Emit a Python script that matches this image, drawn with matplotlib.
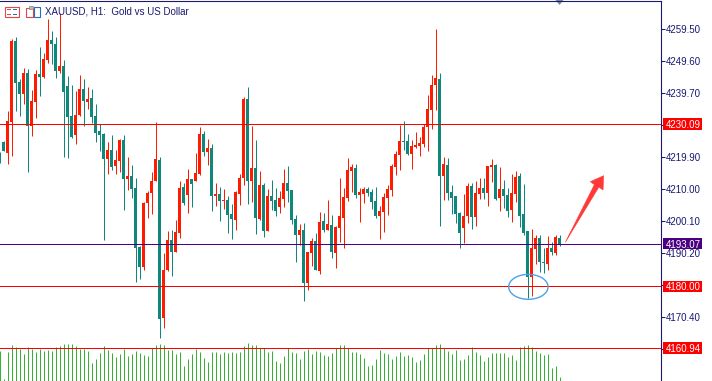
"""MT5-style XAUUSD H1 candles with tick volumes, marked levels and notes."""
import matplotlib

matplotlib.use("Agg")
import matplotlib.pyplot as plt
import matplotlib.transforms as mtransforms
import numpy as np
from matplotlib.patches import Ellipse, Polygon, Rectangle

plt.rcParams["font.family"] = ["Liberation Sans", "DejaVu Sans"]

# ---- data (one entry per H1 bar, oldest first) ----
opens = [
    4220.5, 4224.5, 4221.2, 4230.8, 4255.7, 4243.0, 4239.3, 4245.8, 4229.6, 4237.0,
    4245.5, 4244.7, 4249.9, 4256.0, 4254.8, 4246.5, 4248.0, 4241.8, 4232.5, 4226.6,
    4232.9, 4240.9, 4237.0, 4238.1, 4232.5, 4227.9, 4227.0, 4219.4, 4222.1, 4217.2,
    4218.7, 4225.1, 4213.2, 4213.9, 4210.3, 4192.1, 4186.0, 4205.6, 4208.7, 4212.4,
    4219.0, 4170.3, 4185.0, 4194.2, 4190.7, 4196.5, 4210.6, 4208.3, 4213.1, 4212.6,
    4214.6, 4227.0, 4221.5, 4222.7, 4207.9, 4208.5, 4206.4, 4206.6, 4202.3, 4200.5,
    4208.6, 4213.5, 4237.8, 4212.6, 4216.5, 4200.8, 4211.2, 4197.1, 4207.9, 4206.6,
    4204.5, 4207.0, 4211.9, 4209.7, 4200.7, 4195.9, 4197.4, 4181.1, 4190.3, 4194.0,
    4184.8, 4200.1, 4197.4, 4198.9, 4190.3, 4198.1, 4201.2, 4207.3, 4215.7, 4216.5,
    4208.3, 4208.6, 4210.0, 4209.1, 4206.3, 4201.8, 4203.0, 4207.3, 4209.8, 4216.9,
    4220.6, 4224.8, 4224.8, 4220.9, 4223.1, 4223.4, 4224.0, 4229.0, 4234.5, 4242.1,
    4244.0, 4214.1, 4217.4, 4209.1, 4207.9, 4202.6, 4198.1, 4201.8, 4210.9, 4201.5,
    4208.6, 4210.3, 4208.9, 4216.9, 4217.4, 4207.3, 4210.0, 4208.2, 4203.6, 4208.6,
    4214.0, 4202.3, 4197.0, 4182.9, 4191.6, 4195.0, 4187.6, 4187.0, 4191.9, 4190.3,
    4195.0,
]
highs = [
    4221.4, 4224.8, 4234.0, 4256.3, 4256.9, 4244.0, 4247.4, 4247.1, 4240.6, 4246.8,
    4253.9, 4252.0, 4262.5, 4258.8, 4256.9, 4264.3, 4249.8, 4244.9, 4242.1, 4240.3,
    4245.2, 4244.0, 4241.5, 4240.9, 4236.3, 4230.2, 4227.4, 4224.5, 4226.7, 4222.1,
    4225.5, 4226.7, 4219.9, 4217.4, 4213.4, 4192.5, 4206.0, 4209.5, 4215.3, 4230.7,
    4219.9, 4190.4, 4197.0, 4197.4, 4200.4, 4212.5, 4212.0, 4216.2, 4213.1, 4221.1,
    4229.2, 4227.9, 4225.5, 4223.9, 4211.9, 4210.6, 4210.1, 4207.9, 4205.4, 4209.4,
    4214.6, 4238.4, 4241.5, 4229.5, 4225.1, 4215.6, 4211.9, 4210.0, 4212.8, 4210.3,
    4209.4, 4216.2, 4217.1, 4209.7, 4202.0, 4199.2, 4199.5, 4190.6, 4194.9, 4196.4,
    4202.9, 4202.6, 4206.6, 4202.0, 4198.6, 4213.4, 4210.3, 4219.6, 4217.7, 4217.7,
    4210.3, 4210.6, 4210.6, 4210.0, 4210.6, 4204.8, 4208.8, 4211.2, 4217.7, 4221.7,
    4229.8, 4231.0, 4227.0, 4225.1, 4227.6, 4226.1, 4230.1, 4239.0, 4245.2, 4259.4,
    4245.8, 4219.9, 4219.6, 4211.2, 4207.9, 4203.0, 4208.5, 4211.9, 4211.9, 4212.5,
    4213.4, 4213.4, 4217.1, 4219.3, 4217.7, 4216.8, 4212.8, 4210.3, 4214.6, 4215.6,
    4215.0, 4211.6, 4197.0, 4197.8, 4195.9, 4195.9, 4191.9, 4195.6, 4193.7, 4195.9,
    4195.9,
]
lows = [
    4218.0, 4221.7, 4217.8, 4220.3, 4234.2, 4232.6, 4236.3, 4215.4, 4226.5, 4232.0,
    4238.8, 4244.2, 4249.0, 4248.7, 4244.4, 4245.9, 4220.0, 4219.7, 4225.7, 4224.0,
    4232.5, 4229.6, 4234.8, 4230.3, 4224.6, 4221.8, 4194.4, 4214.7, 4215.8, 4214.7,
    4215.4, 4203.5, 4209.8, 4207.3, 4181.4, 4182.2, 4185.0, 4201.2, 4202.4, 4212.4,
    4164.1, 4167.2, 4184.8, 4183.2, 4190.7, 4195.0, 4205.1, 4202.6, 4204.5, 4212.6,
    4214.3, 4220.3, 4217.4, 4203.3, 4204.9, 4200.2, 4203.9, 4196.5, 4194.7, 4197.4,
    4205.2, 4211.3, 4205.5, 4206.1, 4196.2, 4200.5, 4195.3, 4197.1, 4203.6, 4201.8,
    4202.7, 4204.5, 4206.1, 4199.3, 4187.6, 4192.8, 4175.5, 4178.9, 4186.3, 4185.1,
    4183.9, 4196.7, 4197.4, 4188.8, 4185.7, 4193.7, 4191.9, 4206.4, 4209.2, 4207.3,
    4199.9, 4205.8, 4207.9, 4203.9, 4201.2, 4194.7, 4196.8, 4202.1, 4207.9, 4214.4,
    4216.0, 4222.1, 4220.6, 4216.3, 4222.8, 4220.3, 4223.1, 4221.8, 4228.6, 4234.5,
    4198.7, 4206.7, 4206.7, 4202.4, 4199.6, 4191.9, 4193.4, 4199.6, 4197.7, 4198.7,
    4207.0, 4207.0, 4204.9, 4212.3, 4206.7, 4203.3, 4204.2, 4201.5, 4199.9, 4206.1,
    4198.4, 4195.9, 4176.5, 4177.1, 4186.9, 4184.5, 4184.2, 4185.1, 4189.7, 4189.7,
    4192.5,
]
closes = [
    4219.0, 4221.8, 4231.0, 4255.7, 4242.8, 4239.3, 4245.8, 4229.6, 4237.2, 4245.5,
    4244.7, 4250.1, 4256.0, 4254.9, 4246.5, 4248.0, 4240.0, 4232.3, 4226.2, 4232.9,
    4240.9, 4237.3, 4237.8, 4232.3, 4227.4, 4226.8, 4219.4, 4222.1, 4216.9, 4219.0,
    4225.1, 4213.2, 4213.9, 4210.1, 4191.9, 4186.0, 4205.7, 4208.8, 4212.5, 4219.3,
    4169.8, 4185.0, 4194.2, 4190.7, 4196.7, 4210.3, 4205.8, 4213.1, 4211.6, 4214.9,
    4227.0, 4221.5, 4222.7, 4207.9, 4208.5, 4206.4, 4206.6, 4202.1, 4200.8, 4209.1,
    4213.4, 4237.8, 4212.6, 4216.5, 4201.2, 4211.2, 4197.1, 4207.9, 4206.4, 4203.3,
    4207.2, 4211.9, 4209.5, 4200.5, 4195.9, 4197.4, 4181.1, 4190.6, 4194.0, 4185.1,
    4199.8, 4197.4, 4199.2, 4190.6, 4198.3, 4201.7, 4207.5, 4215.9, 4216.8, 4208.3,
    4209.1, 4210.0, 4208.9, 4206.1, 4201.8, 4203.2, 4207.5, 4210.0, 4217.1, 4220.8,
    4224.8, 4224.6, 4220.9, 4223.3, 4223.6, 4224.2, 4229.2, 4234.7, 4242.1, 4244.3,
    4214.1, 4217.7, 4208.9, 4207.3, 4202.4, 4196.5, 4201.7, 4210.9, 4201.5, 4208.8,
    4210.3, 4208.9, 4217.1, 4217.4, 4207.0, 4210.0, 4207.9, 4203.3, 4208.8, 4213.7,
    4201.8, 4196.5, 4182.9, 4191.9, 4195.0, 4187.6, 4187.2, 4191.9, 4190.7, 4195.3,
    4193.07,
]
# tick volumes, relative units as drawn
volumes = [
    30, 2, 29, 36, 34, 32, 27, 34, 32, 29, 32, 30, 31, 30, 34, 35, 37, 37, 37, 35,
    32, 32, 30, 18, 22, 28, 35, 31, 28, 24, 27, 32, 25, 27, 30, 28, 26, 25, 33, 36,
    37, 36, 31, 31, 27, 29, 15, 22, 27, 32, 29, 23, 19, 29, 29, 27, 29, 28, 29, 28,
    29, 35, 38, 36, 36, 33, 33, 29, 30, 20, 18, 25, 33, 29, 28, 22, 30, 32, 27, 30,
    29, 26, 25, 28, 33, 36, 36, 33, 29, 29, 27, 23, 15, 16, 22, 31, 28, 27, 22, 25,
    29, 25, 26, 24, 19, 21, 27, 33, 33, 36, 37, 33, 30, 27, 31, 21, 22, 26, 34, 29,
    26, 20, 24, 28, 28, 28, 28, 24, 26, 21, 34, 35, 36, 34, 30, 28, 26, 27, 13, 15,
    4,
]
price_ticks = [4259.50, 4249.60, 4239.70, 4229.80, 4219.90, 4210.00,
               4200.10, 4190.20, 4180.30, 4170.40, 4160.50]
levels = [4230.09, 4193.07, 4180.00, 4160.94]
title = "XAUUSD, H1:  Gold vs US Dollar"

# ---- styling ----
W, H = 712, 381
NAVY = "#191970"
BULL = "#ff1a00"
BEAR = "#0f877b"
VOL = "#32b432"
RED = "#ff0000"
INDIGO = "#4b0082"
level_colors = [RED, INDIGO, RED, RED]
ONE_PX = 0.72  # points

o, h, l, c = (np.array(a) for a in (opens, highs, lows, closes))
x = np.arange(len(o))
up = c >= o
col = np.where(up, BULL, BEAR)

fig = plt.figure(figsize=(W / 100, H / 100), dpi=100, facecolor="white")
rect = [0, 0, 660.5 / W, (H - 0.5) / H]
axv = fig.add_axes(rect)
ax = fig.add_axes(rect, sharex=axv)
ax.set_zorder(axv.get_zorder() + 1)
ax.patch.set_visible(False)

# volumes in the bottom band
axv.vlines(x, 0, volumes, colors=VOL, linewidth=ONE_PX)
axv.set_ylim(0, 380)
axv.set_axis_off()

# candles
ax.vlines(x, l, h, colors=col, linewidth=ONE_PX, zorder=2)
body_lo = np.minimum(o, c)
body_h = np.maximum(np.abs(c - o), 0.35)
ax.bar(x, body_h, bottom=body_lo, width=0.75, color=col, linewidth=0, zorder=3)

# 4 px per bar, bar centres on pixel centres
ax.set_xlim(0.125, 165.25)
ax.set_ylim(4150.73, 4268.21)

for sp in ("left", "bottom"):
    ax.spines[sp].set_visible(False)
for sp in ("top", "right"):
    ax.spines[sp].set_color(NAVY)
    ax.spines[sp].set_linewidth(0.8)
ax.tick_params(axis="x", bottom=False, labelbottom=False)
ax.yaxis.tick_right()
ax.set_yticks(price_ticks)
ax.set_yticklabels([f"{v:.2f}" for v in price_ticks])
ax.tick_params(axis="y", length=2.9, width=0.75, pad=0.9, colors=NAVY, labelsize=7)

# horizontal levels with price boxes on the scale
blend = mtransforms.blended_transform_factory(ax.transAxes, ax.transData)
half = 5.6 * 0.3087
for v, lc in zip(levels, level_colors):
    ax.axhline(v, color=lc, linewidth=ONE_PX, zorder=4)
    ax.add_patch(Rectangle((662.7 / 660.5, v - half), 39.3 / 660.5, 2 * half,
                           transform=blend, facecolor=lc, edgecolor="none",
                           clip_on=False, zorder=8))
    ax.text(666 / 660.5, v, f"{v:.2f}", transform=blend, color="white", fontsize=7,
            ha="left", va="center_baseline", clip_on=False, zorder=9)

# blue ellipse around the double bottom and the red arrow
ax.add_patch(Ellipse((132.21, 4179.8), 9.85, 7.7, fill=False,
                     edgecolor="#4aa3ea", linewidth=1.0, zorder=6))
arrow = [(141.46, 4193.55), (148.73, 4211.37), (147.71, 4212.26), (151.03, 4214.12),
         (150.88, 4209.70), (149.83, 4210.60)]
ax.add_patch(Polygon(arrow, closed=True, facecolor="#ff3838", edgecolor="#ff3838",
                     linewidth=0.4, zorder=6, clip_on=False))

# header: icons, title, shift marker (pixel coordinates from the top left)
px = mtransforms.Affine2D().scale(1, -1).translate(0, H)
fig.add_artist(Rectangle((4.5, 6.5), 14, 10, transform=px, facecolor="white",
                         edgecolor="#e04848", linewidth=0.8))
for yy in (9, 11.5, 14):
    fig.add_artist(Rectangle((6.5, yy), 4, 0.8, transform=px, facecolor="#e04848",
                             edgecolor="none"))
    fig.add_artist(Rectangle((12.5, yy), 4.5, 0.8, transform=px, facecolor="#2a6db5",
                             edgecolor="none"))
fig.add_artist(Rectangle((25.5, 7.5), 7, 9, transform=px, facecolor="white",
                         edgecolor="#e04848", linewidth=0.8))
fig.add_artist(Rectangle((28.5, 5.5), 4, 3, transform=px, facecolor="#bbbbbb",
                         edgecolor="#888888", linewidth=0.5))
fig.add_artist(Rectangle((33.5, 6.5), 6, 10, transform=px, facecolor="white",
                         edgecolor="#2a6db5", linewidth=0.8))
fig.text(45 / W, 1 - 12 / H, title, color=NAVY, fontsize=7, va="center", ha="left")
fig.add_artist(Polygon([(555.5, 0), (563.5, 0), (559.5, 5)], closed=True,
                       transform=px, facecolor="#7a8aa0", edgecolor="none"))

fig.savefig("out.png", dpi=100, facecolor="white")
